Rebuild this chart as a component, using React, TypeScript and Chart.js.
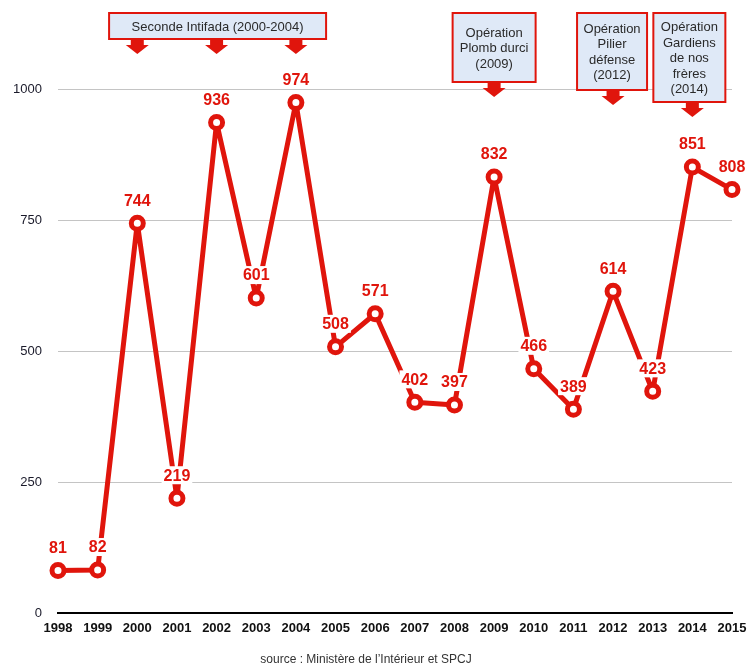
import React, { useEffect, useRef } from "react";
import { Chart, registerables } from "chart.js";

Chart.register(...registerables);

const years = ["1998", "1999", "2000", "2001", "2002", "2003", "2004", "2005", "2006", "2007", "2008", "2009", "2010", "2011", "2012", "2013", "2014", "2015"];
const attacks = [81, 82, 744, 219, 936, 601, 974, 508, 571, 402, 397, 832, 466, 389, 614, 423, 851, 808];
const yTicks = [0, 250, 500, 750, 1000];
const sourceText = "source : Ministère de l\u2019Intérieur et SPCJ";

const annotationLines = [
  ["Seconde Intifada (2000-2004)"],
  ["Opération", "Plomb durci", "(2009)"],
  ["Opération", "Pilier", "défense", "(2012)"],
  ["Opération", "Gardiens", "de nos", "frères", "(2014)"],
];
const annotationCenterYears = ["2002", "2009", "2012", "2014"];
const annotationArrowYears = [["2000", "2002", "2004"], ["2009"], ["2012"], ["2014"]];
// box sizes and horizontal nudges (layout)
const annotationBoxSizes = [
  { w: 217, h: 26, dx: 1 },
  { w: 83, h: 69, dx: 0 },
  { w: 70, h: 77, dx: -1 },
  { w: 72, h: 89, dx: -3 },
];

const RED = "#e0150c";
const BOX_FILL = "#dfe9f7";
const FONT = "'Liberation Sans', Arial, Helvetica, sans-serif";

const labelsPlugin = {
  id: "valueLabels",
  afterDatasetsDraw(chart: any) {
    const ctx = chart.ctx;
    const meta = chart.getDatasetMeta(0);
    ctx.save();
    ctx.font = `bold 16px ${FONT}`;
    ctx.textAlign = "center";
    ctx.textBaseline = "middle";
    meta.data.forEach((pt: any, i: number) => {
      const txt = String(attacks[i]);
      const x = pt.x;
      const y = pt.y - 23;
      const w = ctx.measureText(txt).width;
      ctx.fillStyle = "#ffffff";
      ctx.fillRect(x - w / 2 - 2, y - 9, w + 4, 18);
      ctx.fillStyle = RED;
      ctx.fillText(txt, x, y + 1);
    });
    ctx.restore();
  },
};

const annotationPlugin = {
  id: "operations",
  afterDraw(chart: any) {
    const ctx = chart.ctx;
    const xs = chart.scales.x;
    const top = 13;
    ctx.save();
    annotationLines.forEach((lines, k) => {
      const { w, h, dx } = annotationBoxSizes[k];
      const cx = xs.getPixelForValue(years.indexOf(annotationCenterYears[k])) + dx;
      const left = cx - w / 2;
      ctx.fillStyle = BOX_FILL;
      ctx.fillRect(left, top, w, h);
      ctx.strokeStyle = RED;
      ctx.lineWidth = 2;
      ctx.strokeRect(left, top, w, h);
      ctx.fillStyle = "#2a2a2a";
      ctx.font = `13px ${FONT}`;
      ctx.textAlign = "center";
      ctx.textBaseline = "middle";
      const lh = 15.5;
      const mid = top + h / 2 + 1;
      lines.forEach((ln, j) => {
        ctx.fillText(ln, cx, mid + (j - (lines.length - 1) / 2) * lh);
      });
      const aTop = top + h + 1;
      annotationArrowYears[k].forEach((yr) => {
        const ax = xs.getPixelForValue(years.indexOf(yr));
        ctx.fillStyle = RED;
        ctx.beginPath();
        ctx.moveTo(ax - 6.5, aTop);
        ctx.lineTo(ax + 6.5, aTop);
        ctx.lineTo(ax + 6.5, aTop + 5);
        ctx.lineTo(ax + 11.5, aTop + 5);
        ctx.lineTo(ax, aTop + 14);
        ctx.lineTo(ax - 11.5, aTop + 5);
        ctx.lineTo(ax - 6.5, aTop + 5);
        ctx.closePath();
        ctx.fill();
      });
    });
    ctx.restore();
  },
};

export default function App() {
  const ref = useRef<HTMLCanvasElement | null>(null);
  useEffect(() => {
    if (!ref.current) return;
    Chart.defaults.font.family = FONT;
    const chart = new Chart(ref.current, {
      type: "line",
      data: {
        labels: years,
        datasets: [
          {
            data: attacks,
            borderColor: RED,
            borderWidth: 5,
            borderJoinStyle: "round",
            borderCapStyle: "round",
            pointRadius: 6,
            pointHoverRadius: 6,
            pointBorderWidth: 5,
            pointBackgroundColor: "#ffffff",
            pointBorderColor: RED,
            tension: 0,
            clip: false as any,
          },
        ],
      },
      options: {
        animation: false,
        responsive: false,
        maintainAspectRatio: false,
        layout: { padding: { top: 89, left: 0, right: 17, bottom: 0 } },
        plugins: {
          legend: { display: false },
          tooltip: { enabled: false },
          title: {
            display: true,
            position: "bottom",
            text: sourceText,
            color: "#333333",
            font: { size: 12, weight: "normal", family: FONT, lineHeight: 1 },
            padding: { top: 10, bottom: 0 },
          },
        },
        scales: {
          x: {
            offset: false,
            grid: { display: false, drawTicks: false },
            border: { display: true, color: "#000000", width: 2 },
            ticks: {
              autoSkip: false,
              maxRotation: 0,
              minRotation: 0,
              padding: 8,
              color: "#111111",
              font: { size: 13, weight: "bold", family: FONT },
            },
            afterFit(scale: any) {
              scale.height = 31;
              scale.paddingLeft = 0;
              scale.paddingRight = 0;
            },
          },
          y: {
            min: 0,
            max: 1000,
            afterBuildTicks(scale: any) {
              scale.ticks = yTicks.map((v) => ({ value: v }));
            },
            grid: {
              drawTicks: false,
              color: (c: any) => (c.tick && c.tick.value === 0 ? "rgba(0,0,0,0)" : "#c4c4c4"),
              lineWidth: 1,
            },
            border: { display: false },
            ticks: {
              padding: 16,
              color: "#1a1a2a",
              font: { size: 13, family: FONT },
              callback: (v: any) => String(v),
            },
            afterFit(scale: any) {
              scale.width = 58;
            },
          },
        },
      },
      plugins: [labelsPlugin, annotationPlugin],
    });
    return () => chart.destroy();
  }, []);
  return (
    <div style={{ position: "absolute", left: 0, top: 0, width: 749, height: 666, background: "#fff" }}>
      <canvas ref={ref} width={749} height={666} style={{ display: "block" }} />
    </div>
  );
}
